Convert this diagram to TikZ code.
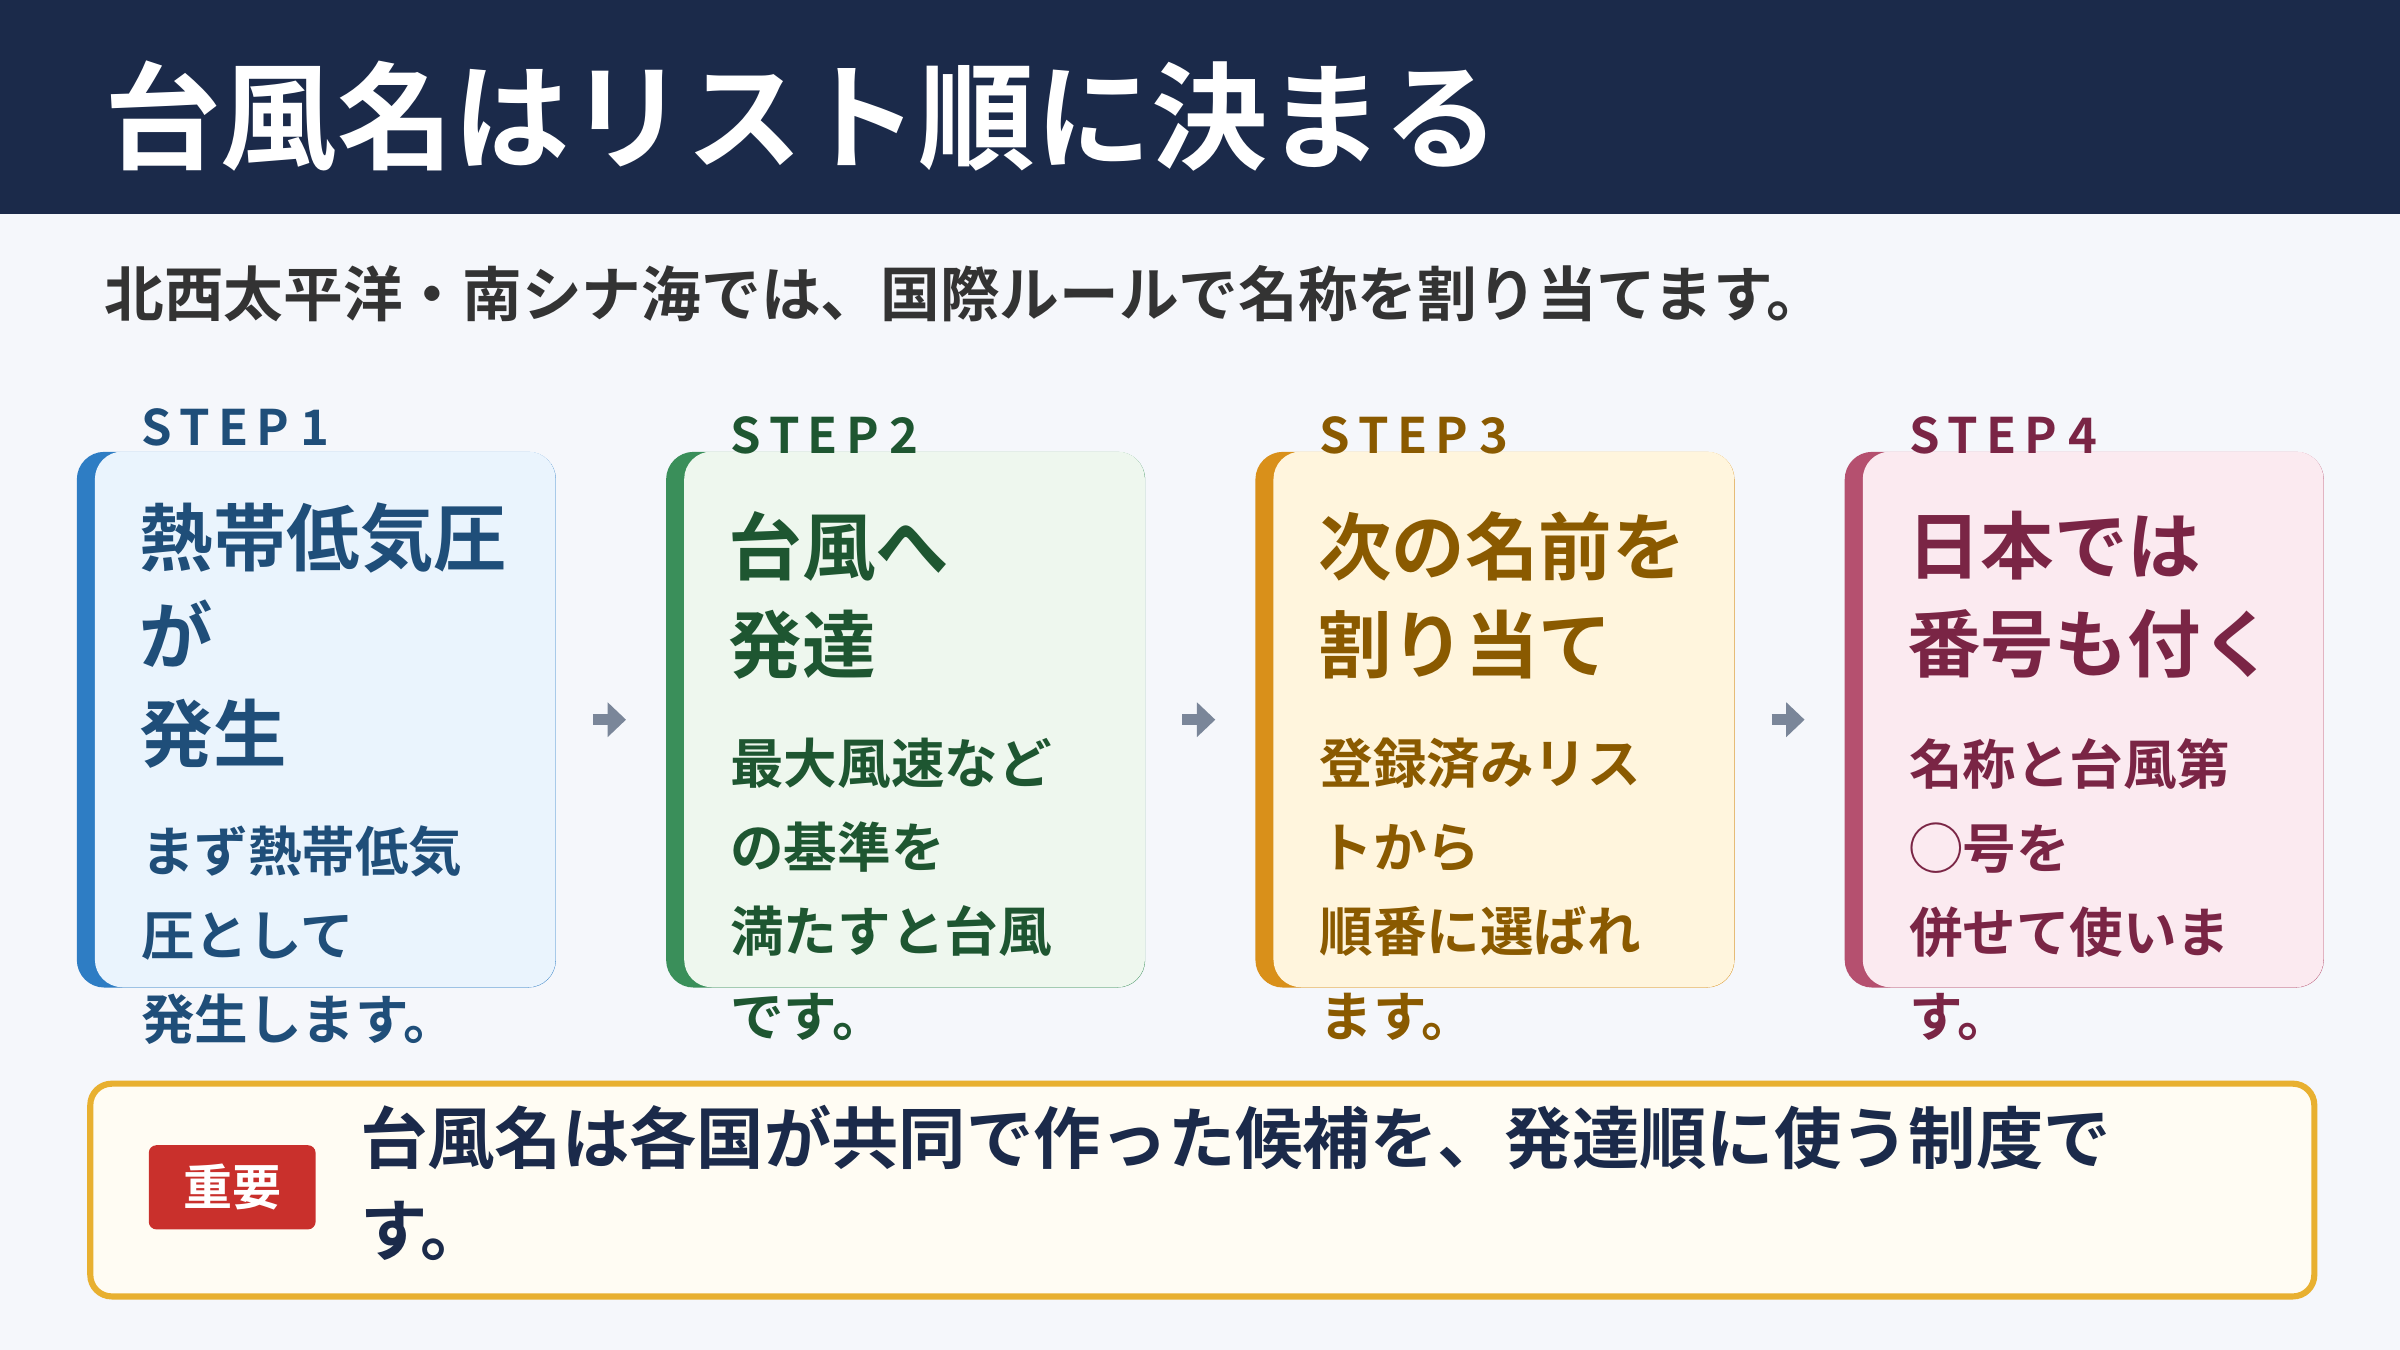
\documentclass[tikz,border=0pt]{standalone}
\usepackage{fontspec}
\setmainfont{Noto Sans CJK JP}[BoldFont={Noto Sans CJK JP Bold}]
\usetikzlibrary{arrows.meta}
\definecolor{navy}{HTML}{1B2A4A}
\definecolor{bg}{HTML}{F5F7FB}
\definecolor{bA}{HTML}{2E7DC4}\definecolor{fA}{HTML}{EAF4FD}\definecolor{tA}{HTML}{1F4E79}
\definecolor{bB}{HTML}{3A8F5A}\definecolor{fB}{HTML}{EEF7EE}\definecolor{tB}{HTML}{1E5631}
\definecolor{bC}{HTML}{D9901A}\definecolor{fC}{HTML}{FFF5DD}\definecolor{tC}{HTML}{8A5A00}
\definecolor{bD}{HTML}{B5506F}\definecolor{fD}{HTML}{FBEAF0}\definecolor{tD}{HTML}{7A2545}
\definecolor{agray}{HTML}{7A8699}
\begin{document}
\begin{tikzpicture}[x=1pt,y=-1pt,
 card/.style={rectangle,rounded corners=18pt,minimum width=313pt,minimum height=350pt,anchor=north west,inner sep=0},
 steplbl/.style={anchor=base west,inner sep=0,font=\bfseries\fontsize{32}{32}\selectfont},
 ttl/.style={anchor=north west,inner sep=0,align=left,font=\bfseries\fontsize{48}{64}\selectfont},
 body/.style={anchor=north west,inner sep=0,align=left,font=\bfseries\fontsize{35}{55}\selectfont},
 arr/.style={draw=agray,line width=7pt,-{Triangle[length=12pt,width=22pt]},shorten >=26pt,shorten <=24pt}]
\useasboundingbox (0,0) rectangle (1568,882);
\fill[bg] (0,0) rectangle (1568,882);
\fill[navy] (0,0) rectangle (1568,140);
\node[anchor=west,inner sep=0,text=white,font=\bfseries\fontsize{76}{76}\selectfont] (title) at (68,76) {台風名はリスト順に決まる};
\node[anchor=west,inner sep=0,text=black!80,font=\bfseries\fontsize{39}{39}\selectfont] (sub) at (68,192) {北西太平洋・南シナ海では、国際ルールで名称を割り当てます。};
% cards
\foreach \i/\x/\L in {1/50/A,2/435/B,3/820/C,4/1205/D}{
 \node[card,fill=b\L] (c\i) at (\x,295) {};
 \fill[f\L,rounded corners=18pt] (\x+12,295) rectangle (\x+313,645);
}
\node[steplbl,text=tA] (s1) at (92,291) {S\,T\,E\,P 1};
\node[steplbl,text=tB] (s2) at (477,296) {S\,T\,E\,P 2};
\node[steplbl,text=tC] (s3) at (862,296) {S\,T\,E\,P 3};
\node[steplbl,text=tD] (s4) at (1247,296) {S\,T\,E\,P 4};
\node[ttl,text=tA] (t1) at (91,328) {熱帯低気圧\\が\\発生};
\node[ttl,text=tB] (t2) at (476,334) {台風へ\\発達};
\node[ttl,text=tC] (t3) at (861,334) {次の名前を\\割り当て};
\node[ttl,text=tD] (t4) at (1246,334) {日本では\\番号も付く};
\node[body,text=tA] (d1) at (92,539) {まず熱帯低気\\圧として\\発生します。};
\node[body,text=tB] (d2) at (477,482) {最大風速など\\の基準を\\満たすと台風\\です。};
\node[body,text=tC] (d3) at (862,482) {登録済みリス\\トから\\順番に選ばれ\\ます。};
\node[body,text=tD] (d4) at (1247,482) {名称と台風第\\◯号を\\併せて使いま\\す。};
\draw[arr] (c1.east) -- (c2.west);
\draw[arr] (c2.east) -- (c3.west);
\draw[arr] (c3.east) -- (c4.west);
% bottom
\node[draw={rgb,255:red,232;green,176;blue,48},line width=4pt,fill={rgb,255:red,255;green,252;blue,243},rounded corners=14pt,minimum width=1453pt,minimum height=139pt,anchor=north west,inner sep=0] (box) at (57,706) {};
\node[fill={rgb,255:red,201;green,48;blue,44},rounded corners=5pt,minimum width=109pt,minimum height=55pt,anchor=north west,inner sep=0,text=white,font=\bfseries\fontsize{32}{32}\selectfont] (badge) at (97,748) {重要};
\node[anchor=north west,inner sep=0,align=left,text=navy,font=\bfseries\fontsize{44}{60}\selectfont] (msg) at (235,722) {台風名は各国が共同で作った候補を、発達順に使う制度で\\す。};
\end{tikzpicture}
\end{document}
